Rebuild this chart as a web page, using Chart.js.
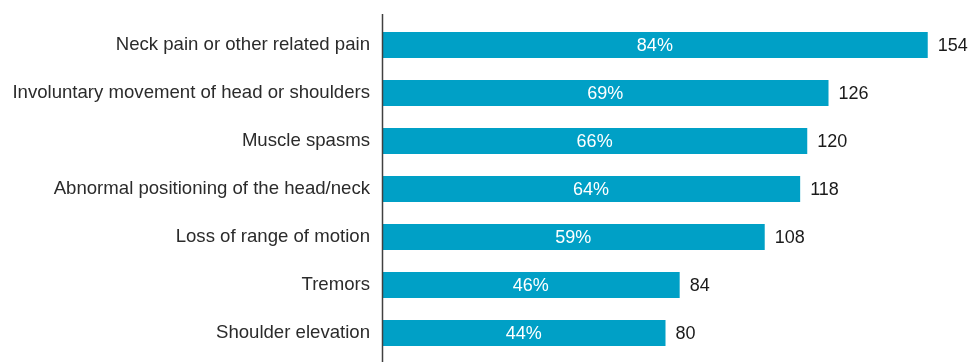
<!DOCTYPE html>
<html>
<head>
  <meta charset="UTF-8">
  <title>Symptoms</title>
  <script src="https://cdn.jsdelivr.net/npm/chart.js"></script>
  <style>
    html, body { margin: 0; padding: 0; background: #fff; }
    #wrap { width: 968px; height: 362px; }
  </style>
</head>
<body>
  <div id="wrap"><canvas id="symptomChart"></canvas></div>

  <script>
    const symptoms = [
      'Neck pain or other related pain',
      'Involuntary movement of head or shoulders',
      'Muscle spasms',
      'Abnormal positioning of the head/neck',
      'Loss of range of motion',
      'Tremors',
      'Shoulder elevation'
    ];
    const patientCounts = [154, 126, 120, 118, 108, 84, 80];
    const percentLabels = ['84%', '69%', '66%', '64%', '59%', '46%', '44%'];

    const barColor = '#00A0C6';
    const fontFamily = 'Liberation Sans, Arial, sans-serif';
    const categoryFont = { family: fontFamily, size: 18.6 };
    const valueFontSize = 18;

    // percentages inside the bars, counts just past the bar ends
    const barLabels = {
      id: 'barLabels',
      afterDatasetsDraw(chart) {
        const ctx = chart.ctx;
        const meta = chart.getDatasetMeta(0);
        ctx.save();
        ctx.font = valueFontSize + 'px ' + fontFamily;
        ctx.textBaseline = 'middle';
        meta.data.forEach((bar, i) => {
          ctx.fillStyle = '#ffffff';
          ctx.textAlign = 'center';
          ctx.fillText(percentLabels[i], (bar.base + bar.x) / 2, bar.y + 1);
          ctx.fillStyle = '#1a1a1a';
          ctx.textAlign = 'left';
          ctx.fillText(String(patientCounts[i]), bar.x + 10, bar.y + 1);
        });
        ctx.restore();
      }
    };

    // vertical axis line running past the plot area
    const axisLine = {
      id: 'axisLine',
      afterDraw(chart) {
        const ctx = chart.ctx;
        const x = chart.chartArea.left + 0.5;
        ctx.save();
        ctx.strokeStyle = '#404040';
        ctx.lineWidth = 1.5;
        ctx.beginPath();
        ctx.moveTo(x, 14);
        ctx.lineTo(x, chart.height);
        ctx.stroke();
        ctx.restore();
      }
    };

    new Chart(document.getElementById('symptomChart'), {
      type: 'bar',
      data: {
        labels: symptoms,
        datasets: [{
          data: patientCounts,
          backgroundColor: barColor,
          borderWidth: 0,
          categoryPercentage: 1,
          barPercentage: 0.54
        }]
      },
      options: {
        indexAxis: 'y',
        responsive: true,
        maintainAspectRatio: false,
        animation: false,
        layout: { padding: { top: 21, bottom: 5, left: 0, right: 19 } },
        plugins: {
          legend: { display: false },
          tooltip: { enabled: false }
        },
        scales: {
          x: {
            display: false,
            min: 0,
            max: 160
          },
          y: {
            afterFit(scale) {
              scale.width = 382;
              scale.paddingTop = 0;
              scale.paddingBottom = 0;
            },
            grid: { display: false, drawTicks: false },
            border: { display: false },
            ticks: {
              padding: 12,
              color: '#2b2b2b',
              font: categoryFont
            }
          }
        }
      },
      plugins: [barLabels, axisLine]
    });
  </script>
</body>
</html>
